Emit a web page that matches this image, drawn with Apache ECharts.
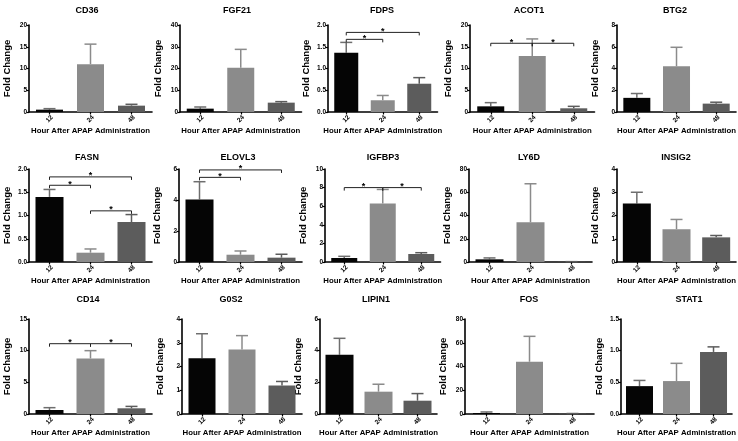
<!DOCTYPE html>
<html><head><meta charset="utf-8">
<script src="https://cdn.jsdelivr.net/npm/echarts@6/dist/echarts.min.js"></script>
<style>html,body{margin:0;padding:0;background:#fff}#c{width:738px;height:441px}</style>
</head><body><div id="c"></div>
<script>
// ---------------- data ----------------
const hours = ['12', '24', '48'];
const genes = ['CD36','FGF21','FDPS','ACOT1','BTG2','FASN','ELOVL3','IGFBP3','LY6D','INSIG2','CD14','G0S2','LIPIN1','FOS','STAT1'];

const mean_CD36 = [0.54, 11.0, 1.46];   const top_CD36 = [0.77, 15.6, 1.77];
const mean_FGF21 = [1.54, 20.3, 4.3];   const top_FGF21 = [2.3, 28.8, 4.77];
const mean_FDPS = [1.36, 0.27, 0.65];   const top_FDPS = [1.6, 0.38, 0.79];
const mean_ACOT1 = [1.3, 12.9, 0.85];   const top_ACOT1 = [2.15, 16.8, 1.3];
const mean_BTG2 = [1.3, 4.2, 0.77];     const top_BTG2 = [1.7, 5.95, 0.9];
const mean_FASN = [1.40, 0.2, 0.86];    const top_FASN = [1.56, 0.28, 1.02];
const mean_ELOVL3 = [4.04, 0.47, 0.28]; const top_ELOVL3 = [5.18, 0.71, 0.5];
const mean_IGFBP3 = [0.43, 6.3, 0.86];  const top_IGFBP3 = [0.61, 7.8, 1.0];
const mean_LY6D = [2.3, 34.2, 0.2];     const top_LY6D = [3.5, 67.3, 0.3];
const mean_INSIG2 = [2.52, 1.41, 1.06]; const top_INSIG2 = [3.0, 1.83, 1.14];
const mean_CD14 = [0.63, 8.77, 0.9];    const top_CD14 = [1.0, 10.0, 1.2];
const mean_G0S2 = [2.35, 2.72, 1.2];    const top_G0S2 = [3.38, 3.3, 1.37];
const mean_LIPIN1 = [3.74, 1.41, 0.84]; const top_LIPIN1 = [4.78, 1.88, 1.29];
const mean_FOS = [0.85, 44, 0.3];       const top_FOS = [1.7, 65.4, 0.4];
const mean_STAT1 = [0.44, 0.52, 0.98];  const top_STAT1 = [0.53, 0.80, 1.06];

// significance brackets: [from category, to category, height]
const sig_FDPS = [[0, 1, 1.67], [0, 2, 1.83]];
const sig_ACOT1 = [[0, 1, 15.8], [1, 2, 15.8]];
const sig_FASN = [[0, 1, 1.65], [0, 2, 1.83], [1, 2, 1.1]];
const sig_ELOVL3 = [[0, 1, 5.46], [0, 2, 5.94]];
const sig_IGFBP3 = [[0, 1, 8.0], [1, 2, 8.0]];
const sig_CD14 = [[0, 1, 11.1], [1, 2, 11.1]];

// y-axis tick ranges
const yMax  = [20, 40, 2, 20, 8,   2, 6, 10, 80, 4,   15, 4, 6, 80, 1.5];
const yStep = [5, 10, 0.5, 5, 2,   0.5, 2, 2, 20, 1,  5, 1, 2, 20, 0.5];

const means = [mean_CD36, mean_FGF21, mean_FDPS, mean_ACOT1, mean_BTG2, mean_FASN, mean_ELOVL3, mean_IGFBP3, mean_LY6D, mean_INSIG2, mean_CD14, mean_G0S2, mean_LIPIN1, mean_FOS, mean_STAT1];
const tops = [top_CD36, top_FGF21, top_FDPS, top_ACOT1, top_BTG2, top_FASN, top_ELOVL3, top_IGFBP3, top_LY6D, top_INSIG2, top_CD14, top_G0S2, top_LIPIN1, top_FOS, top_STAT1];
const sigs = [[], [], sig_FDPS, sig_ACOT1, [], sig_FASN, sig_ELOVL3, sig_IGFBP3, [], [], sig_CD14, [], [], [], []];

// ---------------- layout (pixels) ----------------
const panelLeft = [29, 180, 328, 470, 617,  29, 179, 325, 469, 617,  29, 182, 320, 465, 621];
const panelBand = [41, 40.5, 36.5, 41.5, 40,  41, 41, 38.5, 41, 40,  41, 40, 39, 43, 39.5];
const panelBarW = [27, 27, 24, 27, 27,  28, 28, 26, 28, 28,  28, 27, 28, 27, 27];
const titleX = [87, 237, 382, 529, 675,  87, 238, 383, 529, 676,  88, 231, 376, 529, 689];
const rowTop = [25, 169, 319];
const rowZero = [112, 262, 414];
const rowTitleY = [11, 158, 300];

const FONT = "'Liberation Sans',Arial,Helvetica,sans-serif";
const barColors = ['#050505', '#8b8b8b', '#5c5c5c'];
const errColors = ['#6e6e6e', '#8b8b8b', '#5c5c5c'];

const grids = [], xAxes = [], yAxes = [], series = [], titles = [];

genes.forEach((g, i) => {
  const row = Math.floor(i / 5);
  grids.push({
    left: panelLeft[i], top: rowTop[row],
    width: panelBand[i] * 3, height: rowZero[row] - rowTop[row],
    containLabel: false
  });
  titles.push({
    text: g, left: titleX[i], top: rowTitleY[row], padding: 0,
    textAlign: 'center', textVerticalAlign: 'middle',
    textStyle: { fontFamily: FONT, fontWeight: 'bold', fontSize: 9, color: '#000' }
  });
  xAxes.push({
    type: 'category', gridIndex: i, data: hours,
    axisLine: { show: true, lineStyle: { color: '#000', width: 1.6 } },
    axisTick: { show: true, alignWithLabel: true, length: 2.5, lineStyle: { color: '#000', width: 1.2 } },
    axisLabel: { rotate: 45, align: 'center', verticalAlign: 'middle', fontSize: 6.5, fontFamily: FONT,
      fontWeight: 'bold', color: '#000', margin: 7, interval: 0 },
    name: 'Hour After APAP Administration', nameLocation: 'middle', nameGap: 14,
    nameTextStyle: { fontFamily: FONT, fontWeight: 'bold', fontSize: 7.8, color: '#000' }
  });
  yAxes.push({
    type: 'value', gridIndex: i, min: 0, max: yMax[i], interval: yStep[i],
    splitLine: { show: false },
    axisLine: { show: true, lineStyle: { color: '#000', width: 1.6 } },
    axisTick: { show: true, length: 2.5, lineStyle: { color: '#000', width: 1.2 } },
    axisLabel: {
      fontSize: 6.5, fontFamily: FONT, fontWeight: 'bold', color: '#000', margin: 2,
      formatter: v => (yStep[i] < 1 ? v.toFixed(1) : String(v))
    },
    name: 'Fold Change', nameLocation: 'middle', nameGap: 17, nameRotate: 90,
    nameTextStyle: { fontFamily: FONT, fontWeight: 'bold', fontSize: 9.5, color: '#000' }
  });
  series.push({
    type: 'bar', xAxisIndex: i, yAxisIndex: i, barWidth: panelBarW[i], silent: true,
    data: means[i].map((v, k) => ({ value: v, itemStyle: { color: barColors[k] } })),
    z: 3
  });
  series.push({
    type: 'custom', xAxisIndex: i, yAxisIndex: i, silent: true, z: 2,
    encode: { x: 0, y: [1, 2] },
    data: means[i].map((v, k) => [k, v, tops[i][k]]),
    renderItem: (params, api) => {
      const k = api.value(0);
      const p0 = api.coord([k, api.value(1)]);
      const p1 = api.coord([k, api.value(2)]);
      const c = errColors[k];
      return {
        type: 'group', children: [
          { type: 'line', shape: { x1: p0[0], y1: p0[1], x2: p1[0], y2: p1[1] }, style: { stroke: c, lineWidth: 1.5 } },
          { type: 'line', shape: { x1: p1[0] - 6, y1: p1[1], x2: p1[0] + 6, y2: p1[1] }, style: { stroke: c, lineWidth: 1.5 } }
        ]
      };
    }
  });
  if (sigs[i].length) {
    series.push({
      type: 'custom', xAxisIndex: i, yAxisIndex: i, silent: true, z: 4,
      encode: { x: [0, 1], y: 2 },
      data: sigs[i],
      renderItem: (params, api) => {
        const a = api.coord([api.value(0), api.value(2)]);
        const b = api.coord([api.value(1), api.value(2)]);
        return {
          type: 'group', children: [
            { type: 'polyline', shape: { points: [[a[0], a[1] + 3], [a[0], a[1]], [b[0], b[1]], [b[0], b[1] + 3]] },
              style: { stroke: '#222', lineWidth: 1, fill: null } },
            { type: 'text', style: { text: '*', x: (a[0] + b[0]) / 2, y: a[1] - 1, align: 'center', verticalAlign: 'middle',
              font: 'bold 9px ' + FONT, fill: '#000' } }
          ]
        };
      }
    });
  }
});

const chart = echarts.init(document.getElementById('c'), null, { renderer: 'canvas' });
chart.setOption({
  animation: false,
  backgroundColor: '#fff',
  title: titles,
  grid: grids,
  xAxis: xAxes,
  yAxis: yAxes,
  series: series
});
</script>
</body></html>
